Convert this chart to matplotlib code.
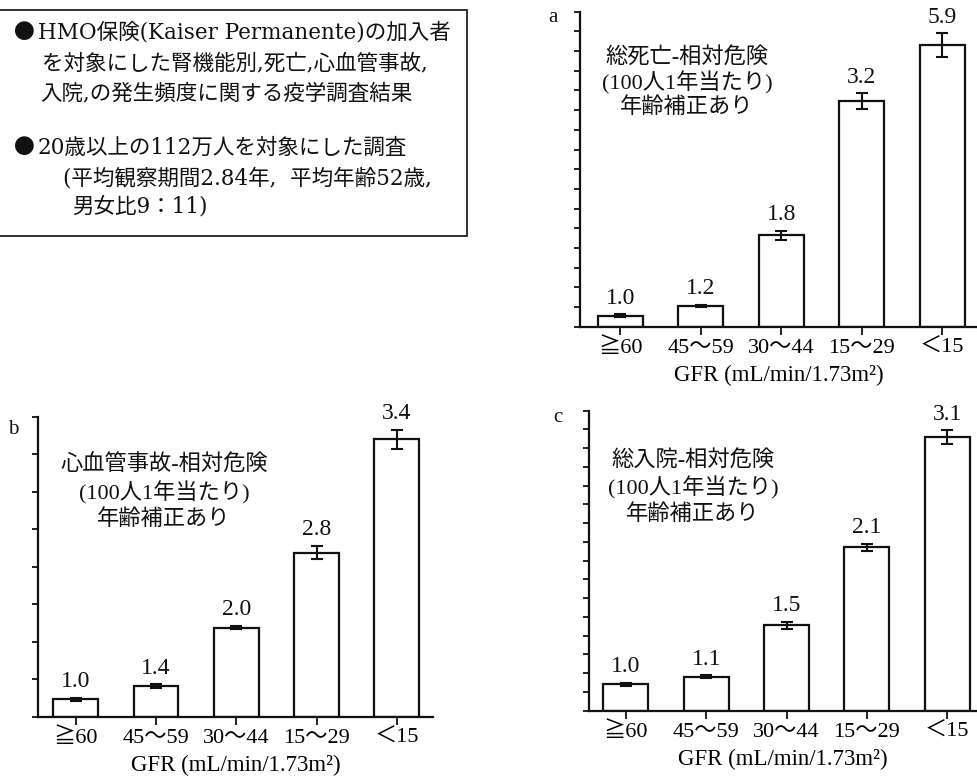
import matplotlib
matplotlib.use("Agg")
import matplotlib.pyplot as plt
from matplotlib.patches import Rectangle

plt.rcParams['font.family'] = ['Liberation Serif', 'Noto Sans CJK JP', 'DejaVu Sans']
BOX_FONT = ['DejaVu Serif', 'Noto Sans CJK JP']

W, H = 977, 778

# GFR categories (mL/min/1.73m2)
categories = ['≧60', '45〜59', '30〜44', '15〜29', '＜15']
xlabel = 'GFR (mL/min/1.73m²)'

# a: all-cause death, age-adjusted rate per 100 person-years, with relative risk labels
death_rate = [0.55, 1.05, 4.65, 11.45, 14.3]
death_err = [0.07, 0.07, 0.23, 0.4, 0.6]
death_rr = [1.0, 1.2, 1.8, 3.2, 5.9]

# b: cardiovascular events
cv_rate = [2.3, 4.1, 11.9, 21.9, 37.0]
cv_err = [0.25, 0.25, 0.25, 0.9, 1.3]
cv_rr = [1.0, 1.4, 2.0, 2.8, 3.4]

# c: hospitalization
hosp_rate = [14.0, 18.1, 45.5, 87.1, 145.8]
hosp_err = [0.8, 0.8, 1.8, 1.8, 3.7]
hosp_rr = [1.0, 1.1, 1.5, 2.1, 3.1]

# (text, x, y, bullet)
box_lines = [
    ('HMO保険(Kaiser Permanente)の加入者', 38, 33, True),
    ('を対象にした腎機能別,死亡,心血管事故,', 42, 63, False),
    ('入院,の発生頻度に関する疫学調査結果', 40, 93, False),
    ('20歳以上の112万人を対象にした調査', 38, 148, True),
    ('(平均観察期間2.84年,  平均年齢52歳,', 63, 178, False),
    ('男女比9：11)', 72, 207, False),
]


def fx(px):
    return px / W


def fy(py):
    return 1 - py / H


fig = plt.figure(figsize=(W / 100, H / 100), dpi=100)
fig.patch.set_facecolor('white')


def panel(left, right, top, bottom, xlim, ymax, ystep, rate, err, rr,
          letter, letter_xy, title_lines, title_x, title_ys):
    ax = fig.add_axes([fx(left), fy(bottom), fx(right - left), (bottom - top) / H])
    x = list(range(len(categories)))
    ax.bar(x, rate, width=0.56, color='white', edgecolor='#111111', linewidth=1.6,
           zorder=2)
    ax.errorbar(x, rate, yerr=err, fmt='none', ecolor='#111111', elinewidth=1.5,
                capsize=4.5, capthick=1.5, zorder=3)
    for xi, r, e, v in zip(x, rate, err, rr):
        ax.annotate(f'{v:.1f}', (xi, r + e), xytext=(0, 4), textcoords='offset points',
                    ha='center', va='bottom', fontsize=17, color='#111111')
    ax.set_xlim(*xlim)
    ax.set_ylim(0, ymax)
    ax.set_yticks([i * ystep for i in range(int(round(ymax / ystep)) + 1)])
    ax.set_yticklabels([])
    ax.set_xticks(x)
    ax.set_xticklabels(categories, fontsize=16)
    ax.set_xlabel(xlabel, fontsize=16.5, labelpad=5)
    for s in ('top', 'right'):
        ax.spines[s].set_visible(False)
    for s in ('left', 'bottom'):
        ax.spines[s].set_linewidth(1.6)
        ax.spines[s].set_color('#111111')
    ax.tick_params(axis='y', direction='out', length=4.5, width=1.3, color='#111111')
    ax.tick_params(axis='x', direction='out', length=5.5, width=1.3, color='#111111',
                   pad=3)
    ax.patch.set_alpha(0)
    fig.text(fx(letter_xy[0]), fy(letter_xy[1]), letter, fontsize=15,
             ha='center', va='center', color='#111111')
    for line, ty in zip(title_lines, title_ys):
        fig.text(fx(title_x), fy(ty), line, fontsize=16, ha='center', va='center',
                 color='#111111')
    return ax


panel(580, 977, 11.7, 326.7, (-0.5, 4.43), 16, 1, death_rate, death_err, death_rr,
      'a', (553, 18), ['総死亡-相対危険', '(100人1年当たり)', '年齢補正あり'],
      687, [57, 83, 108])

panel(38, 433, 417, 716.7, (-0.47, 4.45), 40, 5, cv_rate, cv_err, cv_rr,
      'b', (13, 430), ['心血管事故-相対危険', '(100人1年当たり)', '年齢補正あり'],
      164, [465, 493, 520])

panel(589, 977, 410.7, 710.7, (-0.46, 4.37), 160, 10, hosp_rate, hosp_err, hosp_rr,
      'c', (558, 417), ['総入院-相対危険', '(100人1年当たり)', '年齢補正あり'],
      693, [460, 488, 515])

# descriptive box in the upper left
fig.add_artist(Rectangle((fx(-5), fy(236)), fx(472), (236 - 10) / H,
                         transform=fig.transFigure, fill=False,
                         edgecolor='#222222', linewidth=1.3))
for text, tx, ty, bullet in box_lines:
    if bullet:
        fig.text(fx(14), fy(ty), '●', fontsize=15, ha='left', va='center',
                 color='#111111', family=['Noto Sans CJK JP'])
    fig.text(fx(tx), fy(ty), text, fontsize=15.5, ha='left', va='center',
             color='#111111', family=BOX_FONT)

fig.savefig('out.png', dpi=100, facecolor='white')
